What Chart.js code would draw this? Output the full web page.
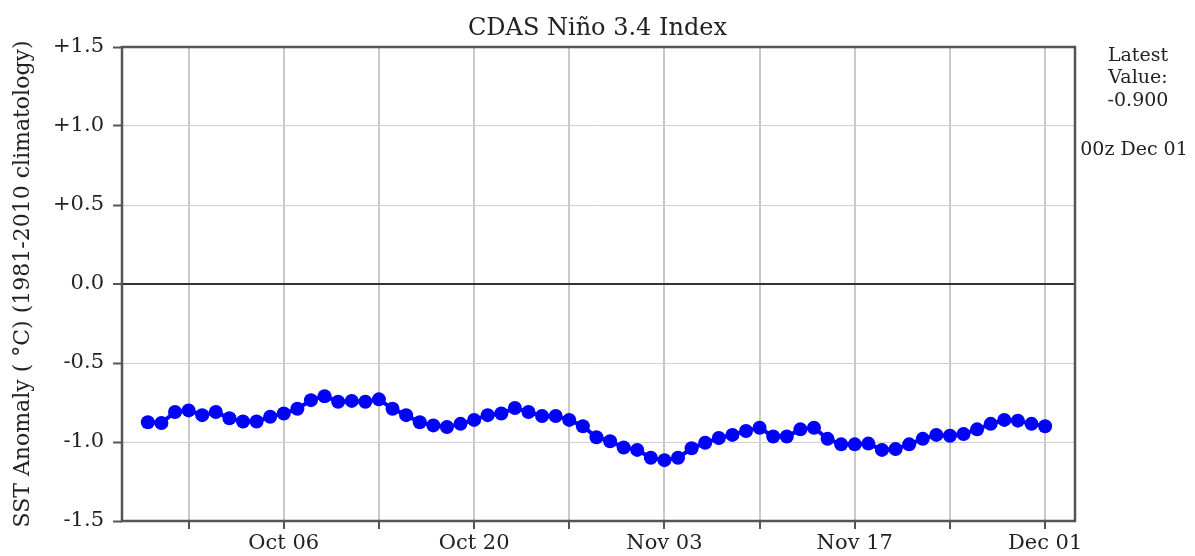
<!DOCTYPE html>
<html>
<head>
<meta charset="utf-8">
<script src="https://cdn.jsdelivr.net/npm/chart.js"></script>
<style>
  body { margin: 0; background: #fff; }
  #wrap { width: 1195px; height: 556px; }
</style>
</head>
<body>
<div id="wrap"><canvas id="chart" width="1195" height="556"></canvas></div>
<script>
// daily values, first point = Sep 26, last point = Dec 01 (00z)
const anomaly = [
  -0.875, -0.88, -0.81, -0.80, -0.83, -0.81, -0.85, -0.87, -0.87, -0.84,
  -0.82, -0.79, -0.735, -0.71, -0.745, -0.74, -0.745, -0.73, -0.79, -0.83,
  -0.875, -0.895, -0.905, -0.885, -0.86, -0.83, -0.82, -0.785, -0.81, -0.835,
  -0.835, -0.86, -0.90, -0.97, -0.995, -1.035, -1.05, -1.10, -1.115, -1.10,
  -1.04, -1.005, -0.975, -0.955, -0.93, -0.91, -0.965, -0.965, -0.92, -0.91,
  -0.98, -1.015, -1.015, -1.01, -1.05, -1.045, -1.015, -0.98, -0.955, -0.96,
  -0.95, -0.92, -0.885, -0.86, -0.865, -0.885, -0.90
];

// weekly ticks, in days after Sep 26
const tickDays = [3, 10, 17, 24, 31, 38, 45, 52, 59, 66];
const tickLabels = ['', 'Oct 06', '', 'Oct 20', '', 'Nov 03', '', 'Nov 17', '', 'Dec 01'];
const yTicks = [-1.5, -1.0, -0.5, 0.0, 0.5, 1.0, 1.5];

const latestValue = -0.900;
const latestTime = '00z Dec 01';

const serif = 'DejaVu Serif';

const framePlugin = {
  id: 'frame',
  beforeDatasetsDraw(chart) {
    const { ctx, chartArea: a } = chart;
    ctx.save();
    ctx.strokeStyle = '#555';
    ctx.lineWidth = 2.5;
    ctx.strokeRect(a.left, a.top, a.right - a.left, a.bottom - a.top);
    ctx.restore();
  },
  afterDraw(chart) {
    const { ctx } = chart;
    ctx.save();
    ctx.fillStyle = '#222';
    ctx.font = '19px "DejaVu Serif"';
    ctx.textAlign = 'center';
    ctx.textBaseline = 'middle';
    ctx.fillText('Latest', 1138, 56);
    ctx.fillText('Value:', 1138, 78);
    ctx.fillText(latestValue.toFixed(3), 1138, 101);
    ctx.fillText(latestTime, 1134, 150);
    ctx.restore();
  }
};

const points = anomaly.map((v, i) => ({ x: i, y: v }));

new Chart(document.getElementById('chart'), {
  type: 'line',
  data: {
    datasets: [{
      data: points,
      borderColor: '#0000ff',
      backgroundColor: '#0000ff',
      borderWidth: 4,
      pointRadius: 7,
      pointHoverRadius: 7,
      pointBorderWidth: 0,
      tension: 0,
    }],
  },
  options: {
    responsive: false,
    animation: false,
    events: [],
    layout: { padding: 0 },
    plugins: {
      legend: { display: false },
      tooltip: { enabled: false },
      title: {
        display: true,
        text: 'CDAS Niño 3.4 Index',
        color: '#222',
        font: { family: serif, size: 24, weight: 'normal' },
        padding: { top: 14, bottom: 4.2 },
      },
    },
    scales: {
      x: {
        type: 'linear',
        min: -1.9,
        max: 68.2,
        afterFit: (s) => { s.height = 35; },
        afterBuildTicks: (s) => { s.ticks = tickDays.map((d) => ({ value: d })); },
        ticks: {
          autoSkip: false,
          maxRotation: 0,
          padding: 2,
          color: '#222',
          font: { family: serif, size: 21 },
          callback: (v) => tickLabels[tickDays.indexOf(v)] || '',
        },
        grid: {
          color: '#c8c8c8',
          lineWidth: 2,
          tickLength: 8,
          tickColor: '#555',
          tickWidth: 2,
        },
        border: { display: false },
      },
      y: {
        min: -1.5,
        max: 1.5,
        afterFit: (s) => { s.width = 122; },
        afterBuildTicks: (s) => { s.ticks = yTicks.map((v) => ({ value: v })); },
        ticks: {
          padding: 9,
          color: '#222',
          font: { family: serif, size: 21 },
          callback: (v) => (v > 0 ? '+' : '') + Number(v).toFixed(1),
        },
        grid: {
          color: (c) => (c.tick && c.tick.value === 0 ? '#333' : '#cfcfcf'),
          lineWidth: (c) => (c.tick && c.tick.value === 0 ? 2 : 1),
          tickLength: 9,
          tickColor: '#555',
          tickWidth: 2,
        },
        border: { display: false },
        title: {
          display: true,
          text: 'SST Anomaly ( °C) (1981-2010 climatology)',
          color: '#222',
          font: { family: serif, size: 22 },
          padding: { top: 10, bottom: 0 },
        },
      },
      y2: {
        position: 'right',
        min: -1.5,
        max: 1.5,
        afterFit: (s) => { s.width = 120; },
        ticks: { display: false },
        grid: { display: false },
        border: { display: false },
      },
    },
  },
  plugins: [framePlugin],
});
</script>
</body>
</html>
